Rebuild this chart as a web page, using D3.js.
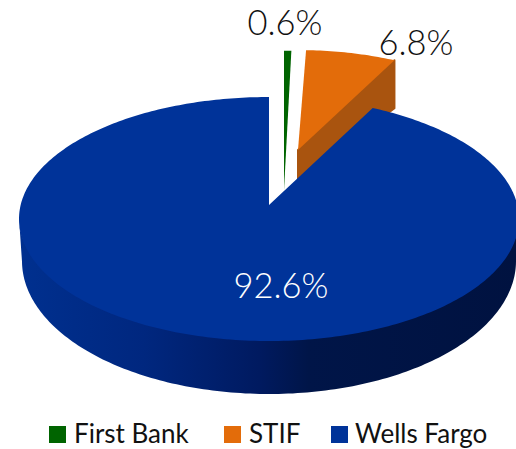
<!DOCTYPE html>
<html><head><meta charset="utf-8">
<script src="https://cdn.jsdelivr.net/npm/d3@7"></script>
<style>html,body{margin:0;background:#fff}svg{display:block}text{font-family:Lato,"Open Sans",sans-serif}</style>
</head><body><svg id="c" width="516" height="449"></svg>
<script>
const categories = ["First Bank", "STIF", "Wells Fargo"];
const shares = [0.6, 6.8, 92.6];
const shareLabels = ["0.6%", "6.8%", "92.6%"];
const topColors = ["#006400", "#e36c0a", "#003399"];
const sideColors = ["#004a00", "#a9540f", "#00206f"];

const svg = d3.select("#c");
const defs = svg.append("defs");

// projection of the tilted disc
const ell = {cx: 269, cy: 219, rx: 250, ry: 122};
const apex = {x: 269, y: 205};
const pieAngles = d3.pie().sort(null).value(d => d)(shares);

// each slice: apex position, and rim scale horizontally / vertically
const explode = [
  {x: 284, y: 190, sx: 0.85, sy: 1.29},
  {x: 298, y: 150, sx: 0.93, sy: 0.925},
  {x: 269, y: 205, sx: 1, sy: 1}
];
const depthAt = d3.scaleLinear().domain([0, 1]).range([30, 48]);
const wallDepth = d3.scaleLinear().domain([219, 341]).range([42, 53]);

function rimPoint(theta) {
  const dx = Math.sin(theta) * ell.rx * 1.04, dy = -Math.cos(theta) * ell.ry;
  const ox = (apex.x - ell.cx) / ell.rx, oy = (apex.y - ell.cy) / ell.ry;
  const ux = dx / ell.rx, uy = dy / ell.ry;
  const a = ux * ux + uy * uy, b = 2 * (ox * ux + oy * uy), c = ox * ox + oy * oy - 1;
  const t = (-b + Math.sqrt(b * b - 4 * a * c)) / (2 * a);
  return [dx * t, dy * t];
}
function rimPath(e, a0, a1) {
  const n = Math.max(4, Math.ceil((a1 - a0) * 60));
  return d3.range(n + 1).map(i => {
    const p = rimPoint(a0 + (a1 - a0) * i / n);
    return [e.x + p[0] * e.sx, e.y + p[1] * e.sy];
  });
}
const poly = d3.line();
const g = svg.append("g");

// orange cut face, behind the blue disc
const orange = pieAngles[1], eO = explode[1];
const corner = rimPath(eO, orange.endAngle, orange.endAngle).pop();
g.append("path").attr("fill", sideColors[1])
  .attr("stroke", sideColors[1]).attr("stroke-width", 2).attr("stroke-linejoin", "round")
  .attr("d", poly([[eO.x, eO.y], corner, [corner[0], corner[1] + depthAt(1)], [eO.x, eO.y + depthAt(0)]]) + "Z");

// blue wall
const grad = defs.append("linearGradient").attr("id", "wall").attr("x1", 0).attr("x2", 1).attr("y1", 0).attr("y2", 0);
[[0, "#00308f"], [0.25, "#00277f"], [0.48, "#001a60"], [0.58, "#001548"], [1, "#001240"]]
  .forEach(s => grad.append("stop").attr("offset", s[0]).attr("stop-color", s[1]));
const blue = pieAngles[2], eB = explode[2];
const rimB = rimPath(eB, blue.startAngle, blue.endAngle);
const lower = rimB.filter(p => p[1] >= ell.cy);
const wallOuter = lower.slice().reverse().map(p => [
  p[0] + (p[0] < 269 ? 3 : -3) * Math.abs(p[0] - 269) / 250,
  p[1] + wallDepth(p[1])
]);
g.append("path").attr("fill", "url(#wall)")
  .attr("d", poly([...lower.map(p => [p[0], p[1] - 2]), ...wallOuter]) + "Z");

// top faces
[0, 1, 2].forEach(i => {
  const s = pieAngles[i], e = explode[i];
  g.append("path").attr("fill", topColors[i])
    .attr("d", poly([[e.x, e.y], ...rimPath(e, s.startAngle, s.endAngle)]) + "Z");
});

// data labels
const labelPos = [[285, 35], [416, 55], [281, 298]];
const labelFill = ["#111111", "#111111", "#ffffff"];
svg.append("g").selectAll("text").data(shareLabels).join("text")
  .attr("x", (d, i) => labelPos[i][0]).attr("y", (d, i) => labelPos[i][1])
  .attr("text-anchor", "middle").attr("font-size", 34.5).attr("font-weight", 300)
  .attr("fill", (d, i) => labelFill[i]).text(d => d);

// legend
const swatchX = [49, 224, 331], textX = [74, 249, 355];
const lg = svg.append("g");
categories.forEach((c, i) => {
  lg.append("rect").attr("x", swatchX[i]).attr("y", 426).attr("width", 17).attr("height", 17).attr("fill", topColors[i]);
  lg.append("text").attr("x", textX[i]).attr("y", 443).attr("font-size", 26).attr("fill", "#111111").text(c);
});
</script></body></html>
